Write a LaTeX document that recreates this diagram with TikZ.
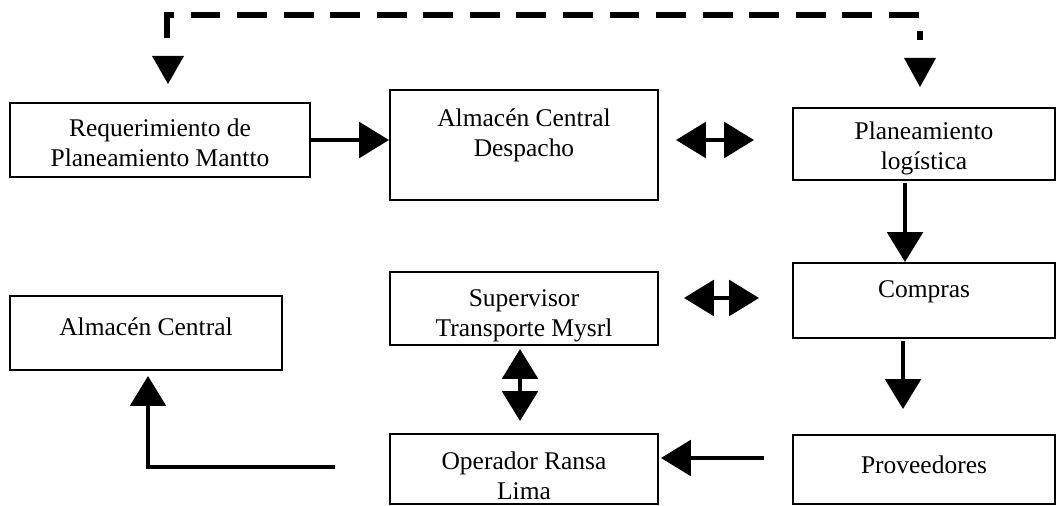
\documentclass[tikz,border=0pt]{standalone}
\usepackage{fontspec}
\setmainfont{Liberation Serif}
\usetikzlibrary{arrows.meta,calc}
\begin{document}
\begin{tikzpicture}[x=0.02cm,y=-0.02cm,
  box/.style={draw,line width=1.1pt,rectangle,inner sep=0pt},
  txt/.style={font=\fontsize{14.5}{17}\selectfont,align=center,inner sep=0pt},
  arr/.style={line width=2.8pt,-{Triangle[length=17pt,width=20pt]}},
  darr/.style={line width=2.8pt,{Triangle[length=17pt,width=20pt]}-{Triangle[length=17pt,width=20pt]}},
  dashline/.style={line width=3.3pt,dash pattern=on 17pt off 9.5pt}
]
\useasboundingbox (0,0) rectangle (1057,506);
\fill[white] (0,0) rectangle (1057,506);
% boxes
\node[box,minimum width=6cm,minimum height=1.48cm] (req) at (160,140) {};
\node[box,minimum width=5.36cm,minimum height=2.2cm] (acd) at (524,145) {};
\node[box,minimum width=5.24cm,minimum height=1.44cm] (plan) at (924,144) {};
\node[box,minimum width=5.24cm,minimum height=1.5cm] (comp) at (924,300.5) {};
\node[box,minimum width=5.36cm,minimum height=1.46cm] (sup) at (524,308.5) {};
\node[box,minimum width=5.44cm,minimum height=1.48cm] (almc) at (146,333) {};
\node[box,minimum width=5.24cm,minimum height=1.38cm] (prov) at (924,469.5) {};
\node[box,minimum width=5.36cm,minimum height=1.4cm] (oper) at (524,469) {};
% texts
\node[txt] (reqT) at (160,143) {Requerimiento de\\Planeamiento Mantto};
\node[txt] (acdT) at (524,135) {Almacén Central\\Despacho};
\node[txt] (planT) at (924,148) {Planeamiento\\logística};
\node[txt] (compT) at (924,292) {Compras};
\node[txt] (supT) at (524,316) {Supervisor\\Transporte Mysrl};
\node[txt] (almcT) at (146,327) {Almacén Central};
\node[txt] (provT) at (924,465) {Proveedores};
\node[txt] (operT) at (524,476) {Operador Ransa\\Lima};
% dashed feedback line
\coordinate (d1) at (167,38);
\coordinate (d2) at (167,15);
\coordinate (d3) at (920,15);
\coordinate (d4) at (920,40);
\draw[dashline] (d1) -- (d2) -- (d3) -- (d4);
\coordinate (hl) at (168,56);
\coordinate (hr) at (920,58);
\fill (hl) ++(-16,0) -- ++(32,0) -- ++(-16,28) -- cycle;
\fill (hr) ++(-16,0) -- ++(32,0) -- ++(-16,29) -- cycle;
% connectors
\coordinate (y1) at (0,298);
\coordinate (y2) at (0,458);
\draw[arr] (req.east) -- (req.east -| acd.west);
\draw[darr,shorten <=0.34cm,shorten >=0.76cm] (acd.east |- req.east) -- (plan.west |- req.east);
\draw[arr,shorten <=0.04cm] ([xshift=-0.38cm]plan.south) -- ([xshift=-0.38cm]comp.north);
\draw[darr,shorten <=0.5cm,shorten >=0.66cm] (sup.east |- y1) -- (comp.west |- y1);
\draw[darr,shorten <=0.06cm,shorten >=0.24cm] ([xshift=-0.08cm]sup.south) -- ([xshift=-0.08cm]oper.north);
\draw[arr,shorten <=0.04cm,shorten >=0.5cm] ([xshift=-0.42cm]comp.south) -- ([xshift=-0.42cm]prov.north);
\draw[arr,shorten <=0.56cm,shorten >=0.04cm] (prov.west |- y2) -- (oper.east |- y2);
\coordinate (ostart) at (335,467);
\draw[arr,shorten >=0.1cm] (ostart) -| ([xshift=0.04cm]almc.south);
\end{tikzpicture}
\end{document}
